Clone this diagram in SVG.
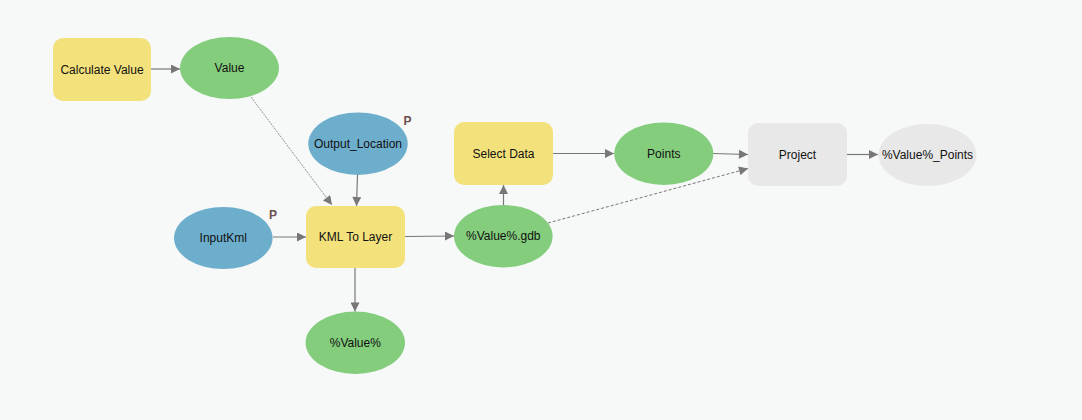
<svg xmlns="http://www.w3.org/2000/svg" width="1082" height="420" viewBox="0 0 1082 420">
<defs>
<style>
.tool{fill:#f3e17c}
.var{fill:#84cd7d}
.param{fill:#6eaecd}
.out{fill:#e8e8e8}
.lbl{font-family:"Liberation Sans",Arial,sans-serif;font-size:12px;fill:#111;text-anchor:middle;dominant-baseline:central}
.p{font-family:"Liberation Sans",Arial,sans-serif;font-size:12px;font-weight:bold;fill:#6b5050}
.c{stroke:#777;stroke-width:1.2;fill:none;marker-end:url(#ah)}
.dash{stroke-dasharray:3 2;stroke-width:1}
.dot{stroke-dasharray:2 1;stroke-width:0.8}
</style>
<marker id="ah" viewBox="0 0 10 10" refX="10" refY="5" markerUnits="userSpaceOnUse" markerWidth="11" markerHeight="9" orient="auto">
<path d="M0,0 L10,5 L0,10 z" fill="#777"/>
</marker>
</defs>
<rect width="1082" height="420" fill="#f7f8f8"/>
<g id="connectors">
<line class="c" x1="151" y1="69" x2="180" y2="69"/>
<line class="c dot" x1="251" y1="97" x2="332" y2="205"/>
<line class="c" x1="357.5" y1="175" x2="356.5" y2="206"/>
<line class="c" x1="273" y1="237" x2="306" y2="237"/>
<line class="c" x1="405" y1="236.5" x2="454" y2="236"/>
<line class="c" x1="355" y1="268" x2="355" y2="311.5"/>
<line class="c" x1="503.5" y1="205" x2="503.5" y2="185"/>
<line class="c" x1="553" y1="153.5" x2="614" y2="153.5"/>
<line class="c" x1="713" y1="153.5" x2="748" y2="154.5"/>
<line class="c dash" x1="548" y1="223" x2="748" y2="168.5"/>
<line class="c" x1="847" y1="154.5" x2="878" y2="154.5"/>
</g>
<g id="calculate-value">
<rect class="tool" x="53" y="38" width="98" height="63" rx="10"/>
<text class="lbl" x="102" y="70">Calculate Value</text>
</g>
<g id="value">
<ellipse class="var" cx="229.5" cy="68" rx="49.5" ry="31"/>
<text class="lbl" x="229.5" y="68">Value</text>
</g>
<g id="output-location">
<ellipse class="param" cx="358" cy="143.7" rx="49.7" ry="31.3"/>
<text class="lbl" x="358" y="143.7">Output_Location</text>
<text class="p" x="403.5" y="125">P</text>
</g>
<g id="inputkml">
<ellipse class="param" cx="223.3" cy="238" rx="49.3" ry="31"/>
<text class="lbl" x="223.3" y="238">InputKml</text>
<text class="p" x="269" y="219">P</text>
</g>
<g id="kml-to-layer">
<rect class="tool" x="306" y="206" width="99" height="62" rx="10"/>
<text class="lbl" x="355.5" y="237">KML To Layer</text>
</g>
<g id="value-pct">
<ellipse class="var" cx="355.3" cy="342.8" rx="49.7" ry="31.2"/>
<text class="lbl" x="355.3" y="342.8">%Value%</text>
</g>
<g id="value-gdb">
<ellipse class="var" cx="503.3" cy="236.2" rx="49.3" ry="31.2"/>
<text class="lbl" x="503.3" y="236.2">%Value%.gdb</text>
</g>
<g id="select-data">
<rect class="tool" x="454" y="122" width="99" height="63" rx="10"/>
<text class="lbl" x="503.5" y="153.5">Select Data</text>
</g>
<g id="points">
<ellipse class="var" cx="663.8" cy="153.7" rx="49.5" ry="31.3"/>
<text class="lbl" x="663.8" y="153.7">Points</text>
</g>
<g id="project">
<rect class="out" x="748" y="123" width="99" height="63" rx="10"/>
<text class="lbl" x="797.5" y="154.5">Project</text>
</g>
<g id="value-points">
<ellipse class="out" cx="927.5" cy="155" rx="49" ry="31"/>
<text class="lbl" x="927.5" y="155">%Value%_Points</text>
</g>
</svg>
